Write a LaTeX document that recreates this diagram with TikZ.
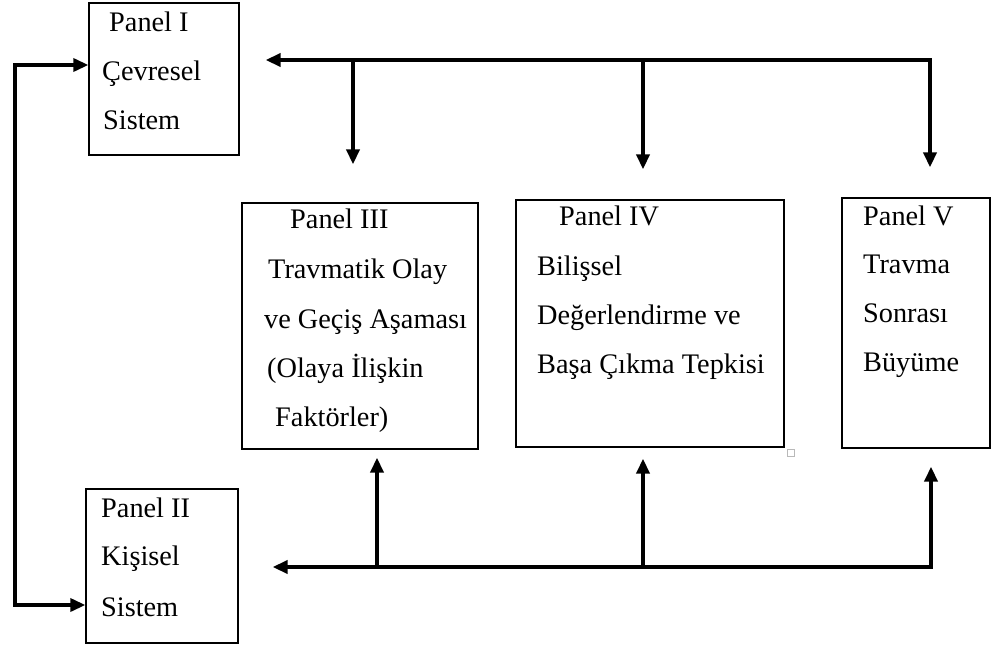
\documentclass[tikz,border=0pt]{standalone}
\usepackage{fontspec}
\setmainfont{Liberation Serif}
\usetikzlibrary{arrows.meta}
\tikzset{
  panel/.style={draw=black, line width=1.3pt, inner sep=0pt, fill=none},
  txt/.style={anchor=base west, inner sep=0pt, font=\fontsize{28.3}{32}\selectfont},
  conn/.style={line width=3.9pt, line join=miter, draw=black},
  tip/.style={-{Triangle[length=15pt,width=13pt]}},
  tips/.style={{Triangle[length=15pt,width=13pt]}-{Triangle[length=15pt,width=13pt]}},
}
\begin{document}
\begin{tikzpicture}[x=1pt,y=-1pt]
\useasboundingbox (0,0) rectangle (993,648);
% boxes
\node[panel, minimum width=150pt, minimum height=152pt] (b1) at (164,79) {};
\node[panel, minimum width=152pt, minimum height=154pt] (b2) at (162,566) {};
\node[panel, minimum width=236pt, minimum height=246pt] (b3) at (360,326) {};
\node[panel, minimum width=268pt, minimum height=247pt] (b4) at (650,323.5) {};
\node[panel, minimum width=148pt, minimum height=250pt] (b5) at (916,323) {};
% texts
\node[txt] (t1a) at (109,31) {Panel I};
\node[txt] (t1b) at (102,80) {Çevresel};
\node[txt] (t1c) at (103,129) {Sistem};
\node[txt] (t2a) at (101,517) {Panel II};
\node[txt] (t2b) at (101,565) {Kişisel};
\node[txt] (t2c) at (101,616) {Sistem};
\node[txt] (t3a) at (290,228) {Panel III};
\node[txt] (t3b) at (268,278) {Travmatik Olay};
\node[txt] (t3c) at (264,328) {ve Geçiş Aşaması};
\node[txt] (t3d) at (267,377) {(Olaya İlişkin};
\node[txt] (t3e) at (275,426) {Faktörler)};
\node[txt] (t4a) at (559,225) {Panel IV};
\node[txt] (t4b) at (537,275) {Bilişsel};
\node[txt] (t4c) at (537,324) {Değerlendirme ve};
\node[txt] (t4d) at (537,373) {Başa Çıkma Tepkisi};
\node[txt] (t5a) at (863,225) {Panel V};
\node[txt] (t5b) at (863,273) {Travma};
\node[txt] (t5c) at (863,322) {Sonrası};
\node[txt] (t5d) at (863,371) {Büyüme};
% small handle square
\draw[gray!55, line width=0.9pt] (787,449) rectangle (794,456);
% junction coordinates
\coordinate (tR) at (930,60);
\coordinate (j1) at (353,60);
\coordinate (j2) at (643,60);
\coordinate (bR) at (931,567);
\coordinate (j3) at (377,567);
\coordinate (j4) at (643,567);
\coordinate (lt) at (15,65);
\coordinate (lb) at (15,605);
% top connectors
\draw[conn, tips, shorten <=26pt, shorten >=30pt] (b1.east |- tR) -- (tR) -- (b5.north -| tR);
\draw[conn, tip, shorten >=38pt] (j1) -- (b3.north -| j1);
\draw[conn, tip, shorten >=30pt] (j2) -- (b4.north -| j2);
% bottom connectors
\draw[conn, tips, shorten <=34pt, shorten >=18pt] (b2.east |- bR) -- (bR) -- (b5.south -| bR);
\draw[conn, tip, shorten >=8pt] (j3) -- (b3.south -| j3);
\draw[conn, tip, shorten >=11pt] (j4) -- (b4.south -| j4);
% left loop
\draw[conn, line width=3.4pt, tips] (b1.west |- lt) -- (lt) -- (lb) -- (b2.west |- lb);
\end{tikzpicture}
\end{document}
